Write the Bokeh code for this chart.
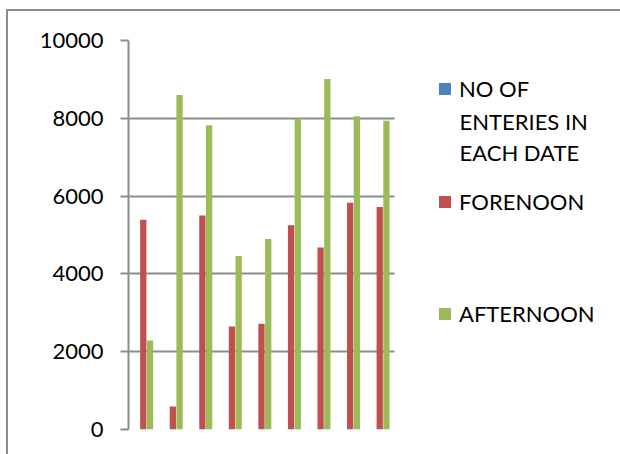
from bokeh.plotting import figure
from bokeh.models import Legend, LegendItem, FixedTicker, Range1d, Label
from bokeh.embed import file_html
from bokeh.resources import INLINE

# Nine dates, three series per date
dates = [1, 2, 3, 4, 5, 6, 7, 8, 9]
entries = [0, 0, 0, 0, 0, 0, 0, 0, 0]
forenoon = [5390, 590, 5500, 2650, 2720, 5250, 4680, 5830, 5720]
afternoon = [2290, 8600, 7820, 4460, 4900, 7990, 9010, 8050, 7940]
y_ticks = [0, 2000, 4000, 6000, 8000, 10000]

series_names = ["NO OF", "FORENOON", "AFTERNOON"]
entries_more = ["ENTERIES IN", "EACH DATE"]
colors = ["#4F81BD", "#C0504D", "#9BBB59"]
offsets = [-0.227, 0.0, 0.227]
bar_w = 0.212

FONT = "Lato"
FSIZE = "22px"
GRAY = "#8c8c8c"

# plot area: bars occupy the left 266 px, legend sits in the rest
BAR_AREA_PX = 266
FRAME_W = 492
x_end = 0.5 + len(dates) * FRAME_W / BAR_AREA_PX

p = figure(width=612, height=443, output_backend="svg", toolbar_location=None,
           frame_width=FRAME_W, frame_height=389,
           x_range=Range1d(0.5, x_end), y_range=Range1d(0, 10000),
           min_border_left=120, min_border_right=0,
           min_border_top=29, min_border_bottom=25,
           margin=(9, 0, 0, 6))
# chart border: only the top and left edges fall inside the page
p.styles = {"border-top": "2px solid " + GRAY, "border-left": "2px solid " + GRAY}
p.title.visible = False
p.outline_line_color = None
p.background_fill_color = "white"
p.border_fill_color = "white"

renderers = []
for vals, col, off in zip([entries, forenoon, afternoon], colors, offsets):
    xs = [d + off for d in dates]
    r = p.vbar(x=xs, top=vals, width=bar_w, bottom=0, fill_color=col, line_color=None)
    renderers.append(r)

# Axes
p.xaxis.visible = False
p.xgrid.visible = False
yax = p.yaxis[0]
yax.ticker = FixedTicker(ticks=y_ticks)
yax.axis_line_color = GRAY
yax.axis_line_width = 2
yax.major_tick_line_color = GRAY
yax.major_tick_line_width = 2
yax.major_tick_out = 8
yax.major_tick_in = 0
yax.minor_tick_line_color = None
yax.major_label_text_font = FONT
yax.major_label_text_font_size = FSIZE
yax.major_label_text_color = "black"
yax.major_label_standoff = 17
p.ygrid.ticker = FixedTicker(ticks=y_ticks)
p.ygrid.grid_line_color = GRAY
p.ygrid.grid_line_width = 2
p.ygrid.cross_bounds = (0.5, len(dates) + 0.5)

# One legend per series, stacked in the free area right of the bars
legend_x = 309
legend_ys = [327, 214, 102]
for name, r, ly in zip(series_names, renderers, legend_ys):
    lg = Legend(items=[LegendItem(label=name, renderers=[r])],
                border_line_color=None, background_fill_alpha=0,
                label_text_font=FONT, label_text_font_size=FSIZE,
                label_text_color="black", glyph_width=15, glyph_height=15,
                padding=0, margin=0, label_standoff=7, location=(legend_x, ly))
    p.add_layout(lg, "center")

# continuation lines of the first legend entry
for txt, ly in zip(entries_more, [308, 277]):
    p.add_layout(Label(x=331, y=ly, x_units="screen", y_units="screen", text=txt,
                       text_font=FONT, text_font_size=FSIZE,
                       text_color="black", text_baseline="middle"))

open("out.html", "w").write(file_html(p, INLINE))
